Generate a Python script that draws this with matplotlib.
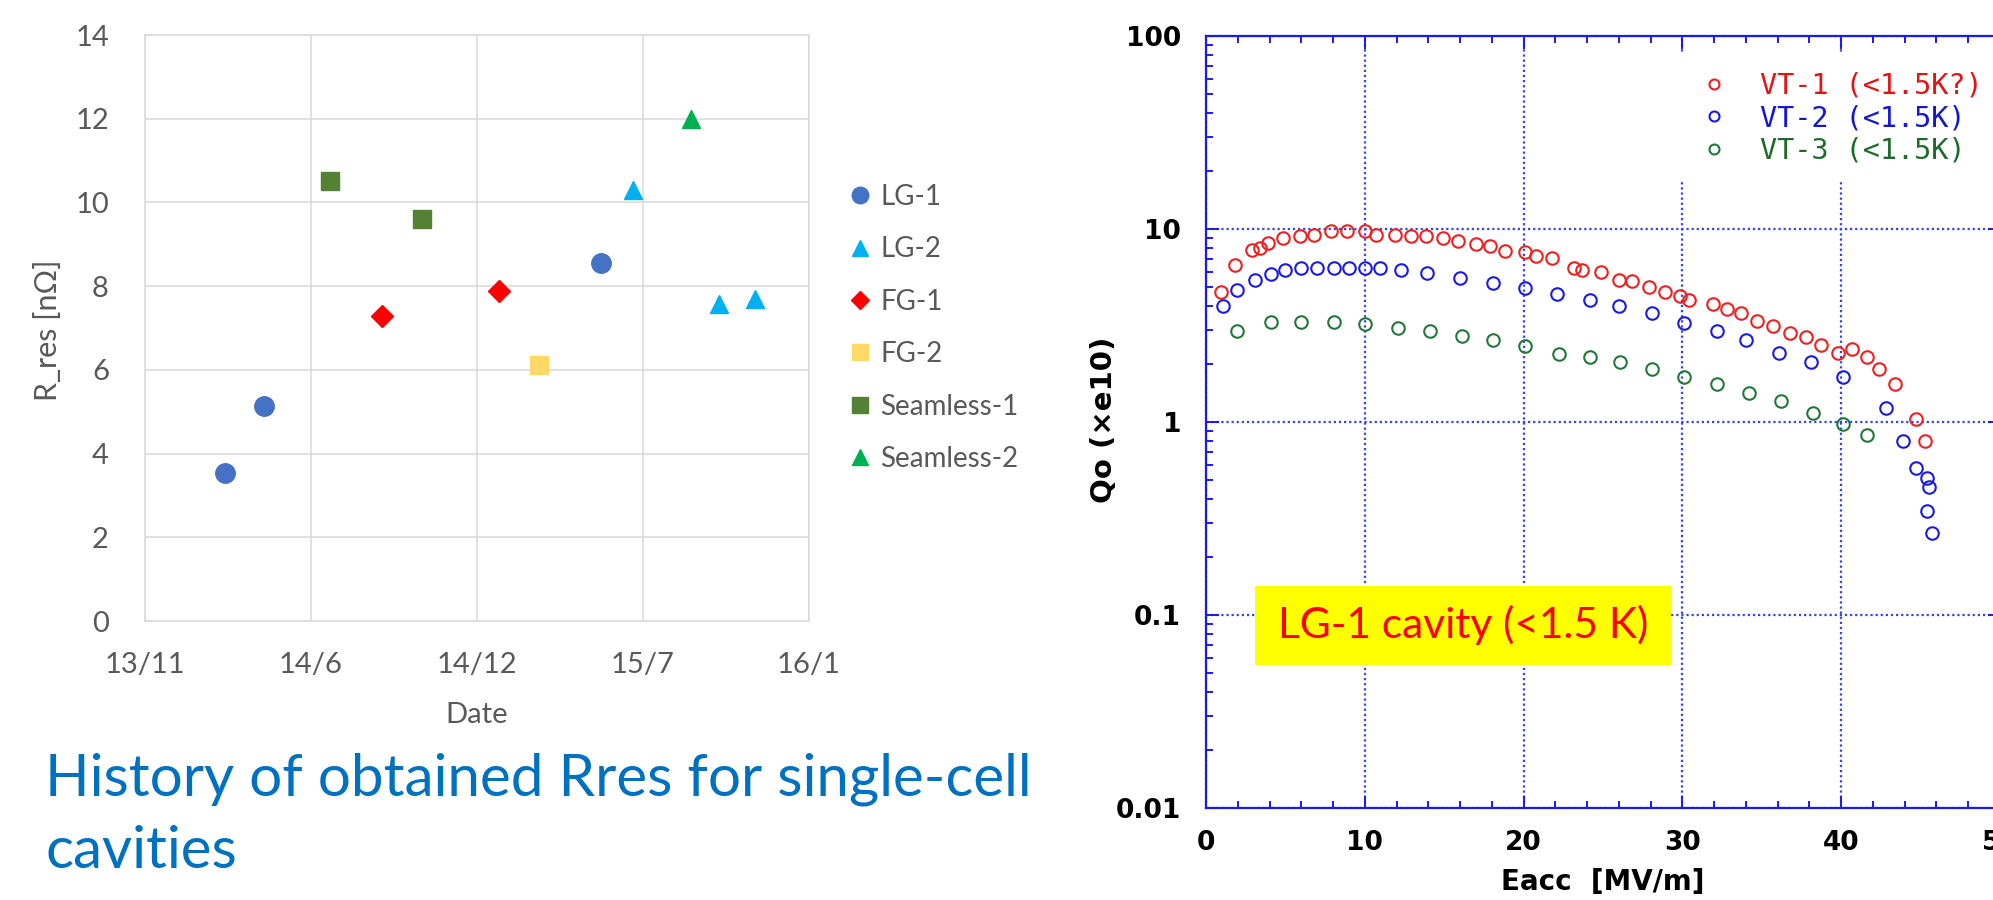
import numpy as np
import matplotlib
matplotlib.use("Agg")
import matplotlib.pyplot as plt
from matplotlib.patches import Rectangle
from matplotlib.ticker import MultipleLocator, LogLocator, NullFormatter

# Figure size in pixels
W, H = 1993, 900
DPI = 100

# ---- Left chart: residual resistance history (dates, R_res in nOhm) ----
lg1_dates = ["2014-02-23", "2014-04-10", "2015-05-15"]
lg1_rres = [3.53, 5.14, 8.55]
lg2_dates = ["2015-06-22", "2015-10-02", "2015-11-14"]
lg2_rres = [10.3, 7.58, 7.69]
fg1_dates = ["2014-08-28", "2015-01-14"]
fg1_rres = [7.29, 7.89]
fg2_dates = ["2015-03-02"]
fg2_rres = [6.11]
sl1_dates = ["2014-06-28", "2014-10-15"]
sl1_rres = [10.51, 9.6]
sl2_dates = ["2015-08-30"]
sl2_rres = [12.0]

date_ticks = ["2013-11-20", "2014-06-05", "2014-12-19", "2015-07-04", "2016-01-17"]
date_labels = ["13/11", "14/6", "14/12", "15/7", "16/1"]
rres_ticks = [0, 2, 4, 6, 8, 10, 12, 14]

title_lines = ["History of obtained Rres for single-cell", "cavities"]

# ---- Right chart: Qo vs Eacc for LG-1 cavity ----
vt1_eacc = [0.95, 1.83, 2.9, 3.37, 3.88, 4.87, 5.9, 6.8, 7.9, 8.9, 10.0, 10.7,
            11.9, 12.9, 13.85, 14.9, 15.9, 17.0, 17.9, 18.8, 20.1, 20.8, 21.8,
            23.2, 23.7, 24.9, 26.0, 26.8, 27.9, 28.9, 29.85, 30.4, 31.9, 32.8,
            33.7, 34.7, 35.7, 36.8, 37.8, 38.75, 39.8, 40.7, 41.6, 42.4, 43.4,
            44.7, 45.3]
vt1_q = [4.74, 6.5, 7.76, 7.98, 8.49, 8.96, 9.2, 9.33, 9.79, 9.79, 9.79, 9.33,
         9.33, 9.15, 9.2, 8.96, 8.71, 8.37, 8.15, 7.71, 7.56, 7.25, 7.05,
         6.28, 6.15, 5.98, 5.43, 5.36, 5.0, 4.71, 4.52, 4.3, 4.07, 3.86,
         3.65, 3.32, 3.16, 2.89, 2.76, 2.50, 2.28, 2.39, 2.17, 1.89, 1.58,
         1.04, 0.80]
vt2_eacc = [1.1, 1.98, 3.08, 4.1, 5.0, 6.0, 6.96, 8.06, 9.0, 10.0, 10.95, 12.3,
            13.9, 16.0, 18.1, 20.1, 22.1, 24.2, 26.0, 28.1, 30.1, 32.2, 34.0,
            36.1, 38.1, 40.1, 42.8, 43.9, 44.7, 45.4, 45.5, 45.4, 45.7]
vt2_q = [3.99, 4.81, 5.43, 5.86, 6.11, 6.28, 6.28, 6.28, 6.28, 6.28, 6.28, 6.11,
         5.94, 5.55, 5.28, 4.93, 4.61, 4.27, 3.99, 3.65, 3.25, 2.97, 2.65,
         2.28, 2.04, 1.71, 1.18, 0.80, 0.578, 0.514, 0.458, 0.346, 0.267]
vt3_eacc = [1.98, 4.1, 6.0, 8.06, 10.0, 12.1, 14.1, 16.1, 18.1, 20.1, 22.2,
            24.2, 26.1, 28.1, 30.1, 32.2, 34.2, 36.2, 38.2, 40.1, 41.6]
vt3_q = [2.97, 3.30, 3.30, 3.30, 3.23, 3.08, 2.97, 2.79, 2.65, 2.49, 2.26,
         2.17, 2.04, 1.88, 1.71, 1.57, 1.41, 1.29, 1.12, 0.973, 0.86]

q_ticks = [0.01, 0.1, 1, 10, 100]
q_labels = ["0.01", "0.1", "1", "10", "100"]
eacc_ticks = [0, 10, 20, 30, 40, 50]


def to_dates(values):
    return np.array(values, dtype="datetime64[D]")


def px_axes(fig, left, top, right, bottom):
    """Add axes using pixel edges measured from the top-left corner"""
    return fig.add_axes([left / W, 1 - bottom / H, (right - left) / W, (bottom - top) / H])


def fig_xy(x, y):
    return x / W, 1 - y / H


fig = plt.figure(figsize=(W / DPI, H / DPI), dpi=DPI)
fig.patch.set_facecolor("white")

excel_font = ["Lato", "DejaVu Sans"]
grey_text = "#595959"

# ----------------------------- left chart -----------------------------
ax1 = px_axes(fig, 145, 35, 809, 621)

ax1.plot(to_dates(lg1_dates), lg1_rres, ls="none", marker="o", ms=14,
         color="#4472C4", label="LG-1")
ax1.plot(to_dates(lg2_dates), lg2_rres, ls="none", marker="^", ms=13,
         color="#00B0F0", label="LG-2")
ax1.plot(to_dates(fg1_dates), fg1_rres, ls="none", marker="D", ms=11,
         color="#FF0000", label="FG-1")
ax1.plot(to_dates(fg2_dates), fg2_rres, ls="none", marker="s", ms=13.5,
         color="#FFD966", label="FG-2")
ax1.plot(to_dates(sl1_dates), sl1_rres, ls="none", marker="s", ms=13.5,
         color="#548235", label="Seamless-1")
ax1.plot(to_dates(sl2_dates), sl2_rres, ls="none", marker="^", ms=13,
         color="#00B050", label="Seamless-2")

ax1.set_xlim(to_dates(date_ticks)[0], to_dates(date_ticks)[-1])
ax1.set_xticks(to_dates(date_ticks), date_labels)
ax1.set_ylim(0, 14)
ax1.set_yticks(rres_ticks)
ax1.grid(True, color="#d9d9d9", lw=1.1)
ax1.set_axisbelow(True)
for sp in ax1.spines.values():
    sp.set_color("#d9d9d9")
    sp.set_linewidth(1.1)
ax1.tick_params(length=0, labelsize=21, labelcolor=grey_text)
ax1.tick_params(axis="y", pad=26)
ax1.tick_params(axis="x", pad=22)
for lab in ax1.get_xticklabels() + ax1.get_yticklabels():
    lab.set_family(excel_font)

fig.text(*fig_xy(48, 330), "R_res [nΩ]", rotation=90, ha="center", va="center",
         fontsize=22, color=grey_text, family=excel_font)
fig.text(*fig_xy(477, 715), "Date", ha="center", va="center",
         fontsize=21, color=grey_text, family=excel_font)

ax1.legend(loc="upper left", bbox_to_anchor=fig_xy(849, 184),
           bbox_transform=fig.transFigure, frameon=False, borderpad=0,
           borderaxespad=0, numpoints=1, markerscale=0.85, handlelength=0.8,
           handletextpad=0.32, labelspacing=0.95, labelcolor=grey_text,
           prop={"family": excel_font, "size": 20})

# caption under the left chart, one text per line
for line, base_y in zip(title_lines, [795, 868]):
    fig.text(*fig_xy(45, base_y), line, ha="left", va="baseline", fontsize=42,
             color="#0070C0", family=excel_font)

# ----------------------------- right chart -----------------------------
blue_axis = "#1a1aee"
ax2 = px_axes(fig, 1206, 36, 2000, 808)
ax2.set_yscale("log")

ax2.plot(vt1_eacc, vt1_q, ls="none", marker="o", ms=9, mfc="none", mew=1.5,
         mec="#ee2020", label="VT-1 (<1.5K?)")
ax2.plot(vt2_eacc, vt2_q, ls="none", marker="o", ms=9, mfc="none", mew=1.5,
         mec="#1a1ae0", label="VT-2 (<1.5K)")
ax2.plot(vt3_eacc, vt3_q, ls="none", marker="o", ms=9, mfc="none", mew=1.5,
         mec="#22773a", label="VT-3 (<1.5K)")

ax2.set_xlim(0, 50)
ax2.set_ylim(0.01, 100)
ax2.set_xticks(eacc_ticks, [str(t) for t in eacc_ticks])
ax2.xaxis.set_minor_locator(MultipleLocator(2))
ax2.set_yticks(q_ticks, q_labels)
ax2.yaxis.set_minor_locator(LogLocator(base=10, subs=np.arange(2, 10)))
ax2.yaxis.set_minor_formatter(NullFormatter())

ax2.grid(True, which="major", color="#3344ee", ls=(0, (1, 1.3)), lw=1.6)
for sp in ax2.spines.values():
    sp.set_color(blue_axis)
    sp.set_linewidth(1.6)
ax2.tick_params(which="both", direction="in", top=True, right=True,
                color=blue_axis, width=1.4)
ax2.tick_params(which="major", length=9)
ax2.tick_params(which="minor", length=5)
ax2.tick_params(axis="y", pad=18, labelsize=19)
ax2.tick_params(axis="x", pad=16, labelsize=19)
for lab in ax2.get_xticklabels() + ax2.get_yticklabels():
    lab.set_family("DejaVu Sans")
    lab.set_fontweight("bold")

fig.text(*fig_xy(1104, 420), "Qo (×e10)", rotation=90, ha="center", va="center",
         fontsize=21, fontweight="bold", family="DejaVu Sans")
fig.text(*fig_xy(1603, 882), "Eacc  [MV/m]", ha="center", va="center",
         fontsize=20, fontweight="bold", family="DejaVu Sans")

ax2.legend(loc="upper left", bbox_to_anchor=fig_xy(1678, 54),
           bbox_transform=fig.transFigure, frameon=True, fancybox=False,
           facecolor="white", edgecolor="none", framealpha=1,
           borderpad=0.62, borderaxespad=0, numpoints=1, markerscale=0.8,
           handlelength=1.3, handletextpad=0.96, labelspacing=0.16,
           labelcolor=["#e01515", "#1515d5", "#1c6b28"],
           prop={"family": "DejaVu Sans Mono", "size": 20.5})

# yellow note box on the right chart
note_box = Rectangle(fig_xy(1255, 665), (1671 - 1255) / W, (665 - 586) / H,
                     transform=fig.transFigure, facecolor="#ffff00",
                     edgecolor="none", zorder=5)
fig.add_artist(note_box)
fig.text(*fig_xy(1463, 625), "LG-1 cavity (<1.5 K)", ha="center", va="center",
         fontsize=30.5, color="#ff0000", family=excel_font, zorder=6)

fig.savefig("out.png", dpi=DPI)
